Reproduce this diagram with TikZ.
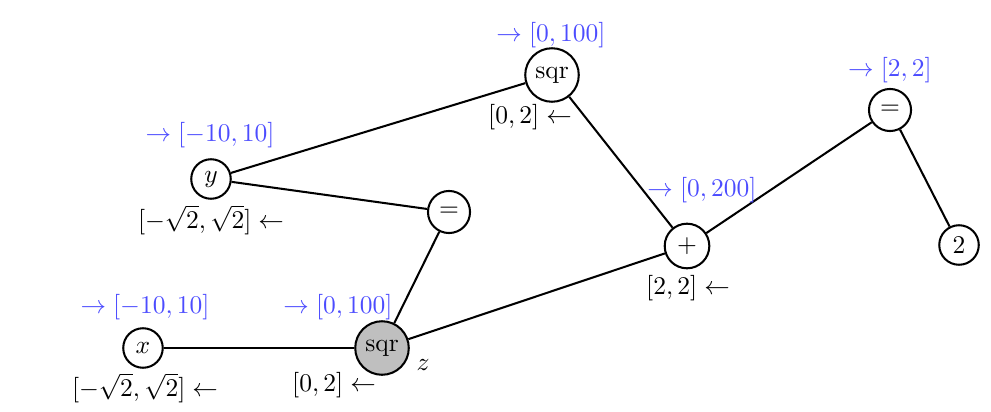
\documentclass[tikz,border=0pt]{standalone}
\usepackage{tikz}
\usetikzlibrary{positioning}

\begin{document}
\begin{tikzpicture}[x=0.3922pt,y=-0.3922pt,
 vr/.style={draw,circle,thick,minimum size=15.5pt,inner sep=1pt},
 op/.style={vr,minimum size=21pt},
 up/.style={text=blue!70,inner sep=1pt},
 dn/.style={inner sep=1pt},
 ln/.style={thick}]
\useasboundingbox (0,0) rectangle (991,411);
\node[vr] (x) at (143,348) {$x$};
\node[op,fill=gray!50] (z) at (382,348) {sqr};
\node[vr] (y) at (211,179) {$y$};
\node[vr,minimum size=16.5pt] (eq) at (449,212) {$=$};
\node[op] (sq) at (552,75) {sqr};
\node[vr,minimum size=17.5pt] (pl) at (687,246) {$+$};
\node[vr,minimum size=16.5pt] (eq2) at (890,110) {$=$};
\node[vr] (two) at (959,245) {$2$};
\node[dn] (zl) at (423,365) {$z$};
\draw[ln] (x) -- (z);
\draw[ln] (z) -- (eq);
\draw[ln] (z) -- (pl);
\draw[ln] (y) -- (sq);
\draw[ln] (y) -- (eq);
\draw[ln] (sq) -- (pl);
\draw[ln] (pl) -- (eq2);
\draw[ln] (eq2) -- (two);
% ranges going up
\node[up] (ux) at (145,307) {$\rightarrow [-10,10]$};
\node[up] (uz) at (338,307) {$\rightarrow [0,100]$};
\node[up] (uy) at (210,135) {$\rightarrow [-10,10]$};
\node[up] (usq) at (551,35) {$\rightarrow [0,100]$};
\node[up] (upl) at (702,190) {$\rightarrow [0,200]$};
\node[up] (ueq2) at (890,70) {$\rightarrow [2,2]$};
% ranges coming down
\node[dn] (dx) at (145,388) {$[-\sqrt{2},\sqrt{2}] \leftarrow$};
\node[dn] (dy) at (211,220) {$[-\sqrt{2},\sqrt{2}] \leftarrow$};
\node[dn] (dz) at (334,385) {$[0,2] \leftarrow$};
\node[dn] (dsq) at (530,117) {$[0,2] \leftarrow$};
\node[dn] (dpl) at (688,288) {$[2,2] \leftarrow$};
\end{tikzpicture}
\end{document}
